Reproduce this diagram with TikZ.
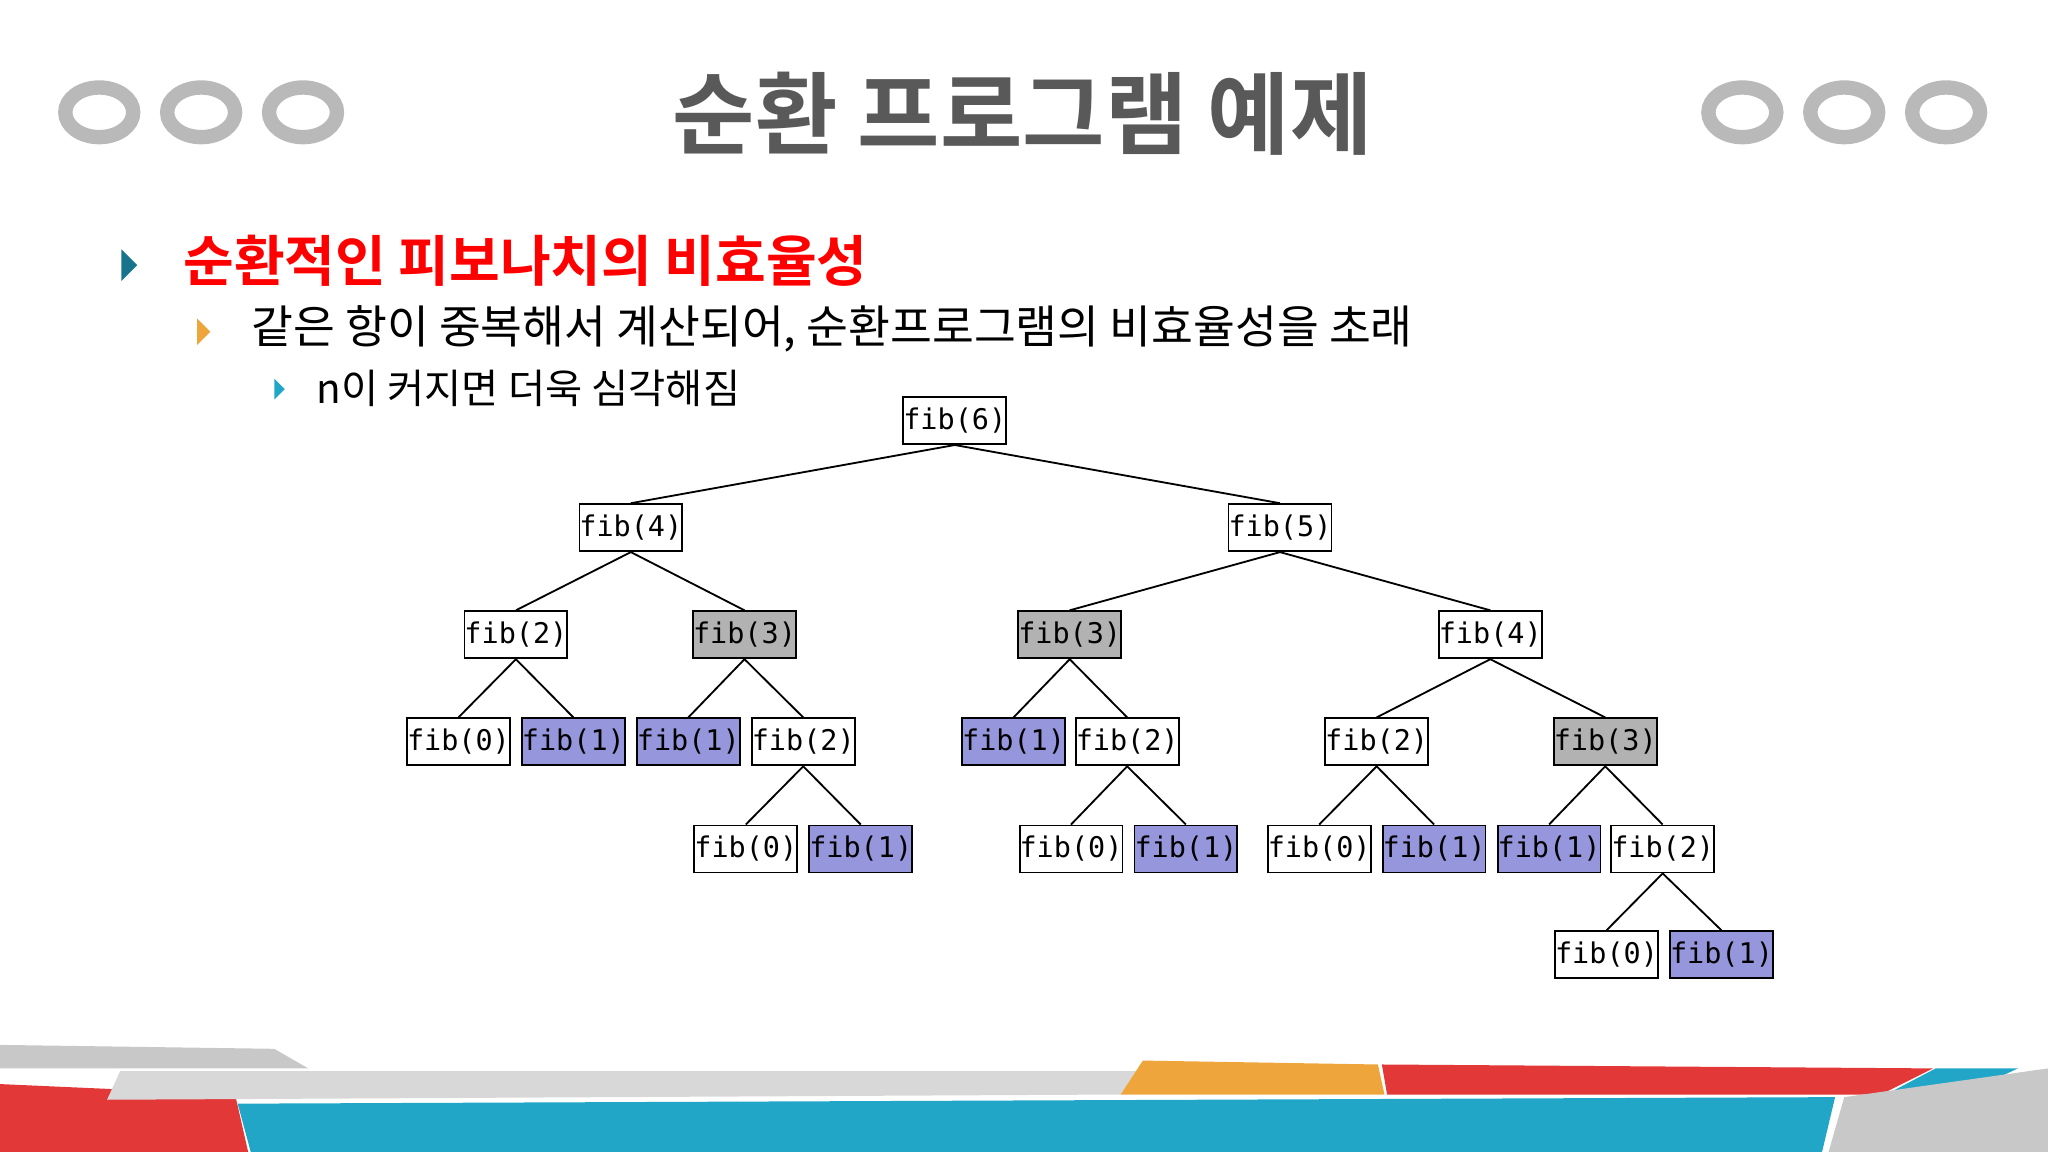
\documentclass[tikz,border=0pt]{standalone}
\usepackage{fontspec}
\newfontfamily\kr{Noto Sans CJK KR}
\newfontfamily\krb{Noto Sans CJK KR Bold}
\setmonofont{DejaVu Sans Mono}
\definecolor{fibblue}{RGB}{150,150,220}
\definecolor{fibgray}{RGB}{178,178,178}
\definecolor{bandblue}{RGB}{34,166,200}
\definecolor{bandred}{RGB}{226,56,56}
\definecolor{bandorange}{RGB}{238,166,60}
\definecolor{bandgray}{RGB}{200,200,200}
\tikzset{
	fibnode/.style={draw, line width=0.4pt, fill=white, minimum width=0.77cm, minimum height=0.36cm, inner sep=0pt, font=\ttfamily\fontsize{6.2}{7}\selectfont},
	dup/.style={fibnode, fill=fibgray},
	base/.style={fibnode, fill=fibblue},
	ring/.style={draw=bandgray!80!gray, line width=1.1mm},
	bullet/.style={fill=#1, draw=none}
}
\begin{document}
\begin{tikzpicture}[x=0.01cm, y=-0.01cm]
			\useasboundingbox (0,0) rectangle (1568,882);
			% rings
			\foreach \cx in {76,154,232,1334,1412,1490}
				\draw[ring] (\cx,86) ellipse (26 and 19);
			% title
			\node (title) at (783,87) {\krb\fontsize{19.5}{22}\selectfont\color{black!65}순환 프로그램 예제};
			% bullets
			\fill[bullet=bandblue!70!black] (93,191) -- (105,203) -- (93,215) -- cycle;
			\node[anchor=west] (h1) at (128,200) {\krb\fontsize{12}{14}\selectfont\color{red}순환적인 피보나치의 비효율성};
			\fill[bullet=bandorange] (151,244) -- (161,254) -- (151,264) -- cycle;
			\node[anchor=west] (h2) at (180,252) {\kr\fontsize{9.9}{11}\selectfont 같은 항이 중복해서 계산되어, 순환프로그램의 비효율성을 초래};
			\fill[bullet=bandblue] (210,290) -- (218,298) -- (210,306) -- cycle;
			\node[anchor=west] (h3) at (230,297) {\kr\fontsize{8.8}{10}\selectfont n이 커지면 더욱 심각해짐};
			% tree
			\node[fibnode] (f6) at (731,322) {fib(6)};
			\node[fibnode] (f4a) at (483,404) {fib(4)};
			\node[fibnode] (f5) at (980,404) {fib(5)};
			\node[fibnode] (f2a) at (395,486) {fib(2)};
			\node[dup] (f3a) at (570,486) {fib(3)};
			\node[dup] (f3b) at (819,486) {fib(3)};
			\node[fibnode] (f4b) at (1141,486) {fib(4)};
			\node[fibnode] (f0a) at (351,568) {fib(0)};
			\node[base] (f1a) at (439,568) {fib(1)};
			\node[base] (f1b) at (527,568) {fib(1)};
			\node[fibnode] (f2b) at (615,568) {fib(2)};
			\node[base] (f1c) at (776,568) {fib(1)};
			\node[fibnode] (f2c) at (863,568) {fib(2)};
			\node[fibnode] (f2d) at (1054,568) {fib(2)};
			\node[dup] (f3c) at (1229,568) {fib(3)};
			\node[fibnode] (f0b) at (571,650) {fib(0)};
			\node[base] (f1d) at (659,650) {fib(1)};
			\node[fibnode] (f0c) at (820,650) {fib(0)};
			\node[base] (f1e) at (908,650) {fib(1)};
			\node[fibnode] (f0d) at (1010,650) {fib(0)};
			\node[base] (f1f) at (1098,650) {fib(1)};
			\node[base] (f1g) at (1186,650) {fib(1)};
			\node[fibnode] (f2e) at (1273,650) {fib(2)};
			\node[fibnode] (f0e) at (1230,731) {fib(0)};
			\node[base] (f1h) at (1318,731) {fib(1)};
			\foreach \p/\c in {f6/f4a,f6/f5,f4a/f2a,f4a/f3a,f5/f3b,f5/f4b,f2a/f0a,f2a/f1a,f3a/f1b,f3a/f2b,
				f3b/f1c,f3b/f2c,f4b/f2d,f4b/f3c,f2b/f0b,f2b/f1d,f2c/f0c,f2c/f1e,f2d/f0d,f2d/f1f,f3c/f1g,f3c/f2e,f2e/f0e,f2e/f1h}
				\draw (\p.south) -- (\c.north);
			% bottom band
			\fill[bandgray] (0,800) -- (210,803) -- (236,818) -- (0,818) -- cycle;
			\fill[bandred] (0,830) -- (180,838) -- (190,882) -- (0,882) -- cycle;
			\fill[bandgray!70] (92,820) -- (870,820) -- (858,838) -- (82,842) -- cycle;
			\fill[bandorange] (875,812) -- (1055,815) -- (1060,838) -- (858,838) -- cycle;
			\fill[bandred] (1058,815) -- (1480,818) -- (1440,838) -- (1062,838) -- cycle;
			\fill[bandblue] (1482,818) -- (1545,818) -- (1502,838) -- (1444,838) -- cycle;
			\fill[bandblue] (182,845) -- (1405,840) -- (1395,882) -- (192,882) -- cycle;
			\fill[bandgray] (1412,840) -- (1568,818) -- (1568,882) -- (1400,882) -- cycle;
\end{tikzpicture}
\end{document}
